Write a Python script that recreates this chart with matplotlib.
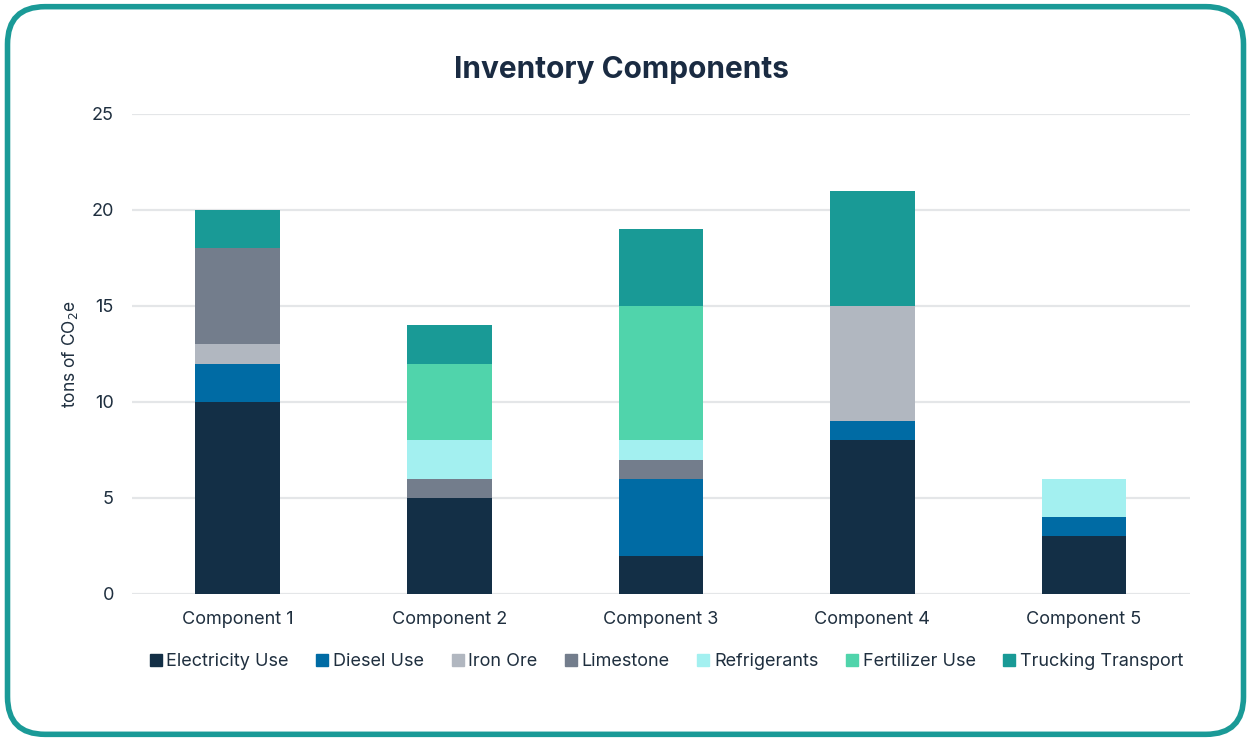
import matplotlib
matplotlib.use("Agg")
import matplotlib.pyplot as plt
import numpy as np
from matplotlib.patches import FancyBboxPatch
from matplotlib.lines import Line2D

plt.rcParams['font.family'] = ['Inter', 'DejaVu Sans']

components = ["Component 1", "Component 2", "Component 3", "Component 4", "Component 5"]
series_names = ["Electricity Use", "Diesel Use", "Iron Ore", "Limestone",
                "Refrigerants", "Fertilizer Use", "Trucking Transport"]
electricity = [10, 5, 2, 8, 3]
diesel = [2, 0, 4, 1, 1]
iron_ore = [1, 0, 0, 6, 0]
limestone = [5, 1, 1, 0, 0]
refrigerants = [0, 2, 1, 0, 2]
fertilizer = [0, 4, 7, 0, 0]
trucking = [2, 2, 4, 6, 0]

colors = ["#132F46", "#006BA4", "#B1B7C0", "#737D8C", "#A3F0F0", "#50D4AB", "#199A96"]
text_col = "#1F2F3F"

fig = plt.figure(figsize=(12.51, 7.41), dpi=100)
ax = fig.add_axes([0.1055, 0.1984, 0.8455, 0.6478])

x = np.arange(len(components))
bottom = np.zeros(len(components))
all_series = [electricity, diesel, iron_ore, limestone, refrigerants, fertilizer, trucking]
for name, vals, c in zip(series_names, all_series, colors):
    vals = np.array(vals, dtype=float)
    ax.bar(x, vals, 0.4, bottom=bottom, color=c, label=name, zorder=3)
    bottom += vals

ax.set_xlim(-0.5, 4.5)
ax.set_ylim(0, 25)
ax.set_yticks([0, 5, 10, 15, 20, 25])
ax.set_xticks(x)
ax.set_xticklabels(components)
ax.tick_params(length=0, labelsize=13, colors=text_col, pad=12)
ax.tick_params(axis='y', pad=13)
ax.grid(axis='y', color="#E4E6E8", linewidth=1.6, zorder=0)
for s in ax.spines.values():
    s.set_visible(False)
ax.set_ylabel("tons of CO$_2$e", fontsize=12.5, color=text_col, labelpad=8)

fig.text(0.497, 0.905, "Inventory Components", ha='center', va='center',
         fontsize=21.5, fontweight='bold', color="#1A2B42")

handles = [Line2D([0], [0], marker='s', linestyle='', markersize=8,
                  markerfacecolor=c, markeredgecolor=c) for c in colors]
fig.legend(handles, series_names, loc='center', bbox_to_anchor=(0.533, 0.107),
           ncol=7, frameon=False, fontsize=13, handlelength=0.6, handletextpad=0.3,
           columnspacing=1.55, labelcolor=text_col)

border = FancyBboxPatch((0.006, 0.009), 0.988, 0.982,
                        boxstyle="round,pad=0,rounding_size=0.03",
                        transform=fig.transFigure, fill=False,
                        edgecolor="#1A9A97", linewidth=4, mutation_aspect=1251/741)
fig.patches.append(border)

fig.savefig("out.png", dpi=100)
